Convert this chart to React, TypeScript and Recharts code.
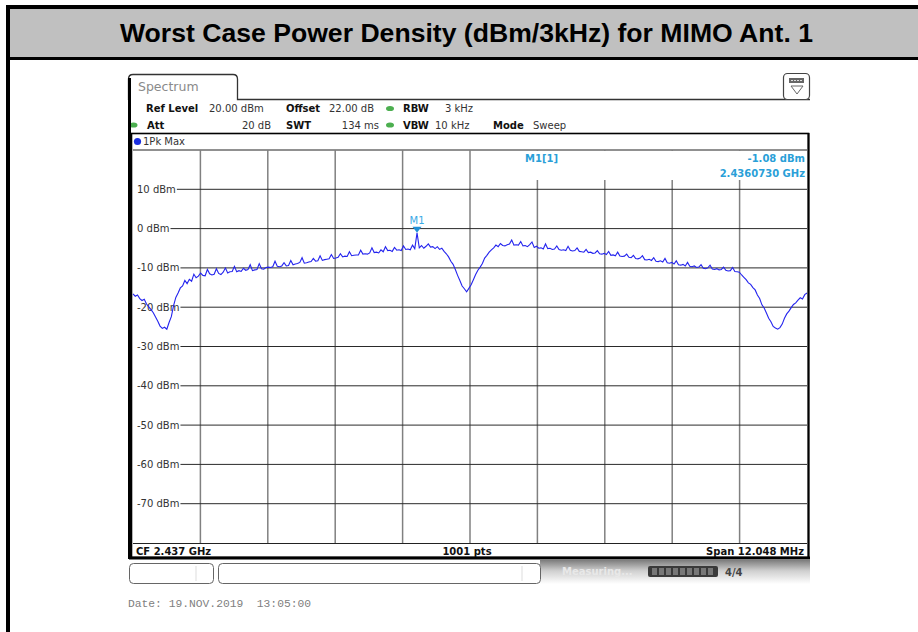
import React from "react";
import { LineChart, Line, XAxis, YAxis, ReferenceLine, ReferenceDot } from "recharts";

// ---- data (dBm), 300 samples across the 12.048 MHz span ----
const traceValues: number[] = [
  -16.6, -17.2, -16.9, -17.8, -18.3, -18.0, -19.2, -19.9, -20.6, -21.4,
  -22.5, -23.6, -24.8, -25.4, -25.1, -25.6, -23.9, -22.4, -19.6, -17.5,
  -16.4, -15.1, -14.6, -13.2, -14.0, -12.9, -13.4, -11.6, -12.5, -12.1,
  -11.3, -11.9, -12.0, -10.4, -11.5, -11.8, -11.6, -10.2, -11.4, -11.7,
  -11.1, -10.0, -11.3, -11.0, -10.9, -9.6, -11.0, -10.7, -10.9, -10.1,
  -10.6, -10.4, -9.2, -10.7, -10.5, -10.4, -8.9, -10.2, -10.3, -9.9,
  -9.8, -9.9, -9.7, -8.3, -9.6, -9.7, -9.5, -8.7, -9.5, -9.4,
  -8.1, -9.2, -9.0, -8.9, -8.6, -7.4, -8.8, -8.7, -8.5, -8.4,
  -7.6, -8.3, -8.2, -6.9, -8.1, -7.9, -7.8, -7.7, -6.6, -7.6,
  -7.5, -7.3, -6.4, -7.2, -7.0, -7.1, -5.9, -6.9, -6.8, -6.7,
  -6.7, -5.5, -6.5, -6.4, -6.5, -6.2, -4.9, -6.1, -6.0, -6.2,
  -5.4, -5.9, -4.6, -5.6, -5.5, -5.8, -4.8, -5.5, -5.4, -5.6,
  -4.4, -5.3, -5.2, -5.4, -4.2, -5.1, -1.08, -4.9, -4.3, -5.0,
  -4.5, -3.9, -4.7, -4.6, -5.1, -4.6, -5.3, -5.0, -5.8, -6.4,
  -7.2, -8.3, -9.1, -10.4, -11.9, -13.2, -14.6, -15.3, -16.1, -15.2,
  -14.3, -13.0, -11.7, -10.6, -9.8, -8.9, -7.5, -6.8, -6.0, -5.4,
  -4.9, -4.2, -4.6, -3.8, -4.3, -4.4, -4.1, -3.9, -2.9, -4.2,
  -4.1, -4.2, -3.3, -4.4, -4.3, -4.6, -4.1, -3.4, -4.8, -4.5,
  -5.0, -4.9, -5.2, -3.9, -5.1, -5.0, -5.3, -5.2, -4.4, -5.3,
  -5.5, -5.4, -5.6, -4.5, -5.5, -5.7, -5.6, -4.9, -5.8, -5.9,
  -6.0, -5.3, -6.1, -6.0, -6.3, -6.2, -5.6, -6.4, -6.5, -6.3,
  -6.6, -5.8, -6.8, -6.7, -6.9, -6.0, -7.0, -7.1, -7.0, -6.5,
  -7.3, -7.4, -6.8, -7.6, -7.7, -7.5, -6.9, -7.9, -8.0, -7.8,
  -8.1, -7.4, -8.3, -8.4, -8.2, -8.5, -7.6, -8.7, -8.8, -8.6,
  -9.0, -8.2, -9.2, -9.3, -9.1, -9.5, -8.6, -9.6, -9.7, -9.5,
  -9.9, -9.8, -9.2, -10.1, -10.2, -10.0, -9.3, -10.3, -10.4, -10.2,
  -10.5, -10.4, -9.8, -10.6, -10.8, -10.7, -9.9, -10.9, -11.0, -11.1,
  -11.8, -12.4, -13.0, -13.8, -14.2, -15.0, -15.6, -16.9, -17.8, -19.4,
  -20.2, -21.5, -22.8, -23.7, -24.9, -25.3, -25.6, -25.2, -24.3, -22.8,
  -21.7, -21.0, -20.1, -19.3, -18.9, -18.2, -17.6, -17.9, -16.8, -16.4,
];

const yTicks: number[] = [10, 0, -10, -20, -30, -40, -50, -60, -70];
const yDomain: [number, number] = [-80, 20];
const xDivisions = 10;
const markerIndex = 126;
const markerValue = -1.08;

const titleText = "Worst Case Power Density (dBm/3kHz) for MIMO Ant. 1";
const markerName = "M1";
const markerReadout = ["M1[1]", "-1.08 dBm", "2.4360730 GHz"];
const footerTexts = ["CF 2.437 GHz", "1001 pts", "Span 12.048 MHz"];
const dateText = "Date: 19.NOV.2019  13:05:00";

const data = traceValues.map((v, i) => ({ i, v }));
const lastIndex = traceValues.length - 1;
const vTicks = Array.from({ length: xDivisions - 1 }, (_, k) => (lastIndex * (k + 1)) / xDivisions);

// ---- layout ----
const W = 918;
const H = 632;
const PLOT_L = 133;
const PLOT_R = 807;
const PLOT_T = 150;
const PLOT_B = 543;
const TICK_FONT = "10px 'DejaVu Sans'";

let ctx: CanvasRenderingContext2D | null = null;
function textWidth(s: string): number {
  if (typeof document === "undefined") return s.length * 6.3;
  if (!ctx) ctx = document.createElement("canvas").getContext("2d");
  if (!ctx) return s.length * 6.3;
  ctx.font = TICK_FONT;
  return ctx.measureText(s).width;
}

const makeHLine = (value: number) => (p: any) => {
  const label = `${value} dBm`;
  const x1 = Number(p.x1 ?? PLOT_L);
  const x2 = Number(p.x2 ?? PLOT_R);
  const y = Number(p.y1 ?? p.y);
  const tx = x1 + 4;
  const w = textWidth(label);
  return (
    <g>
      <line x1={tx + w + 1} x2={x2} y1={y} y2={y} stroke="#2a2a2a" strokeWidth={1} />
      <text x={tx} y={y + 3.5} fontFamily="DejaVu Sans" fontSize={10} fill="#333">
        {label}
      </text>
    </g>
  );
};

const MarkerShape = (props: any) => {
  const { cx, cy } = props;
  return (
    <g>
      <polygon points={`${cx - 4.5},${cy - 6} ${cx + 4.5},${cy - 6} ${cx},${cy}`} fill="#1f8fd6" />
      <text x={cx} y={cy - 9} textAnchor="middle" fontFamily="DejaVu Sans" fontSize={10} fill="#3aaae6">
        {markerName}
      </text>
    </g>
  );
};

const lbl = { fontFamily: "DejaVu Sans", fontSize: 10 } as const;

function Background() {
  return (
    <svg width={W} height={H} style={{ position: "absolute", left: 0, top: 0 }}>
      <defs>
        <linearGradient id="statusGrad" x1="0" y1="0" x2="0" y2="1">
          <stop offset="0" stopColor="#7c7c7c" />
          <stop offset="0.45" stopColor="#cfcfcf" />
          <stop offset="1" stopColor="#ffffff" />
        </linearGradient>
      </defs>
      <rect x={0} y={0} width={W} height={H} fill="#fff" />
      {/* outer report box */}
      <rect x={8} y={7} width={W + 20} height={H + 20} fill="none" stroke="#000" strokeWidth={4} />
      <rect x={10} y={9} width={W} height={48} fill="#c0c0c0" />
      <line x1={10} x2={W} y1={58.5} y2={58.5} stroke="#000" strokeWidth={3} />
      <text
        x={466.5}
        y={42}
        textAnchor="middle"
        fontFamily="Liberation Sans"
        fontWeight="bold"
        fontSize={25}
        textLength={693}
        lengthAdjust="spacingAndGlyphs"
        fill="#000"
      >
        {titleText}
      </text>

      {/* spectrum tab */}
      <path d="M128.5,100 L128.5,79 Q128.5,74.5 133,74.5 L233,74.5 Q237.5,74.5 237.5,79 L237.5,99.5 L810,99.5" fill="none" stroke="#333" strokeWidth={1.3} />
      <text x={138} y={91} fontFamily="DejaVu Sans" fontSize={12.5} fill="#8a8a8a">Spectrum</text>
      {/* icon */}
      <rect x={783.5} y={73.5} width={26} height={26} rx={4} fill="#fff" stroke="#444" strokeWidth={1.2} />
      <rect x={789} y={78} width={15} height={5} fill="#666" />
      <line x1={791} x2={802} y1={80.5} y2={80.5} stroke="#ddd" strokeWidth={1} strokeDasharray="2 1" />
      <polygon points="791,86 803,86 797,94" fill="none" stroke="#666" strokeWidth={1} />

      {/* header info */}
      <text {...lbl} x={146} y={112} fontWeight="bold" fill="#111">Ref Level</text>
      <text {...lbl} x={209} y={112} fill="#333">20.00 dBm</text>
      <text {...lbl} x={286} y={112} fontWeight="bold" fill="#111">Offset</text>
      <text {...lbl} x={329} y={112} fill="#333">22.00 dB</text>
      <ellipse cx={390} cy={108.5} rx={4} ry={2.6} fill="#4caf50" />
      <text {...lbl} x={403} y={112} fontWeight="bold" fill="#111">RBW</text>
      <text {...lbl} x={445} y={112} fill="#333">3 kHz</text>

      <ellipse cx={133.5} cy={125} rx={4} ry={2.6} fill="#4caf50" />
      <text {...lbl} x={147} y={129} fontWeight="bold" fill="#111">Att</text>
      <text {...lbl} x={271} y={129} textAnchor="end" fill="#333">20 dB</text>
      <text {...lbl} x={286} y={129} fontWeight="bold" fill="#111">SWT</text>
      <text {...lbl} x={379} y={129} textAnchor="end" fill="#333">134 ms</text>
      <ellipse cx={390} cy={125} rx={4} ry={2.6} fill="#4caf50" />
      <text {...lbl} x={403} y={129} fontWeight="bold" fill="#111">VBW</text>
      <text {...lbl} x={435} y={129} fill="#333">10 kHz</text>
      <text {...lbl} x={493} y={129} fontWeight="bold" fill="#111">Mode</text>
      <text {...lbl} x={533} y={129} fill="#333">Sweep</text>

      {/* screen frame */}
      <line x1={129.5} x2={129.5} y1={78} y2={559} stroke="#000" strokeWidth={3} />
      <rect x={131.5} y={133.5} width={677} height={424} fill="none" stroke="#000" strokeWidth={1.6} />
      <line x1={129} x2={810} y1={558} y2={558} stroke="#000" strokeWidth={3} />
      <line x1={808.5} x2={808.5} y1={133} y2={559} stroke="#000" strokeWidth={2} />
      <circle cx={137.5} cy={141.5} r={3.6} fill="#1a2ee0" />
      <text {...lbl} x={143} y={145} fill="#333">1Pk Max</text>
      <line x1={PLOT_L} x2={PLOT_R} y1={PLOT_T} y2={PLOT_T} stroke="#222" strokeWidth={1} />
      <line x1={PLOT_L} x2={PLOT_R} y1={PLOT_B + 0.5} y2={PLOT_B + 0.5} stroke="#222" strokeWidth={1} />

      {/* footer */}
      <text {...lbl} x={136} y={555} fontWeight="bold" fill="#111">{footerTexts[0]}</text>
      <text {...lbl} x={467} y={555} textAnchor="middle" fontWeight="bold" fill="#111">{footerTexts[1]}</text>
      <text {...lbl} x={804} y={555} textAnchor="end" fontWeight="bold" fill="#111">{footerTexts[2]}</text>

      {/* status bar */}
      <rect x={540} y={560} width={270} height={24} fill="url(#statusGrad)" />
      <rect x={129.5} y={563.5} width={84} height={20} rx={4} fill="#fff" stroke="#666" strokeWidth={1} />
      <line x1={196} x2={196} y1={566} y2={581} stroke="#ddd" strokeWidth={1} />
      <rect x={218.5} y={563.5} width={322} height={20} rx={4} fill="#fff" stroke="#666" strokeWidth={1} />
      <line x1={522} x2={522} y1={566} y2={581} stroke="#ddd" strokeWidth={1} />
      <text {...lbl} x={562} y={575} fontWeight="bold" fill="#e8e8e8">Measuring...</text>
      <rect x={648} y={566} width={70} height={11} rx={2} fill="#3a3a3a" />
      <line x1={652} x2={714} y1={571.5} y2={571.5} stroke="#777" strokeWidth={7} strokeDasharray="5 2" />
      <text {...lbl} x={725} y={576} fontWeight="bold" fill="#444">4/4</text>

      <text x={128} y={607} fontFamily="Liberation Mono" fontSize={11.3} fill="#808080" style={{ whiteSpace: "pre" }}>
        {dateText}
      </text>
    </svg>
  );
}

function Overlay() {
  return (
    <svg width={W} height={H} style={{ position: "absolute", left: 0, top: 0, pointerEvents: "none" }}>
      <rect x={485} y={151} width={321} height={29} fill="#fff" />
      <text x={525} y={162} fontFamily="DejaVu Sans" fontWeight="bold" fontSize={10} fill="#2a9fd8">{markerReadout[0]}</text>
      <text x={805} y={162} textAnchor="end" fontFamily="DejaVu Sans" fontWeight="bold" fontSize={10} fill="#2a9fd8">{markerReadout[1]}</text>
      <text x={805} y={177} textAnchor="end" fontFamily="DejaVu Sans" fontWeight="bold" fontSize={10} fill="#2a9fd8">{markerReadout[2]}</text>
    </svg>
  );
}

export default function App() {
  return (
    <div style={{ position: "absolute", left: 0, top: 0, width: W, height: H, overflow: "hidden", background: "#fff" }}>
      <Background />
      <div style={{ position: "absolute", left: 0, top: 0 }}>
        <LineChart
          width={W}
          height={H}
          data={data}
          margin={{ top: PLOT_T, left: PLOT_L, right: W - PLOT_R, bottom: H - PLOT_B }}
        >
          <XAxis dataKey="i" type="number" domain={[0, lastIndex]} hide />
          <YAxis type="number" domain={yDomain} ticks={yTicks} hide allowDataOverflow />
          {vTicks.map((t) => (
            <ReferenceLine key={`v${t}`} x={t} stroke="#808080" strokeWidth={1.5} />
          ))}
          {yTicks.map((t) => (
            <ReferenceLine key={`h${t}`} y={t} stroke="#2a2a2a" shape={makeHLine(t)} />
          ))}
          <Line
            type="linear"
            dataKey="v"
            stroke="#2424ee"
            strokeWidth={1.1}
            dot={false}
            isAnimationActive={false}
          />
          <ReferenceDot x={markerIndex} y={markerValue} r={4} shape={<MarkerShape />} />
        </LineChart>
      </div>
      <Overlay />
    </div>
  );
}
